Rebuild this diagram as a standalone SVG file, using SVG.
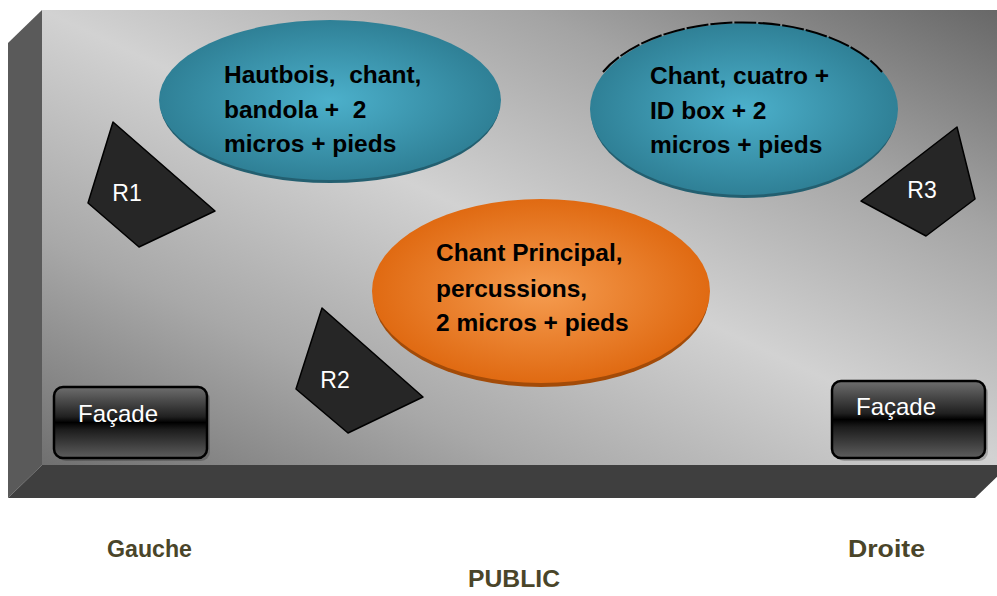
<svg xmlns="http://www.w3.org/2000/svg" width="997" height="596" viewBox="0 0 997 596">
<defs>
<linearGradient id="stageGrad" x1="1" y1="0" x2="0" y2="1">
<stop offset="0" stop-color="#666666"/>
<stop offset="0.25" stop-color="#a4a4a4"/>
<stop offset="0.5" stop-color="#d2d2d2"/>
<stop offset="0.75" stop-color="#a8a8a8"/>
<stop offset="1" stop-color="#707070"/>
</linearGradient>
<radialGradient id="teal" cx="0.5" cy="0.5" r="0.5">
<stop offset="0" stop-color="#4cb0cb"/>
<stop offset="1" stop-color="#2f8096"/>
</radialGradient>
<radialGradient id="orange" cx="0.5" cy="0.5" r="0.5">
<stop offset="0" stop-color="#f59c50"/>
<stop offset="1" stop-color="#e06a12"/>
</radialGradient>
<linearGradient id="btn" x1="0" y1="0" x2="0" y2="1">
<stop offset="0" stop-color="#6e6e6e"/>
<stop offset="0.42" stop-color="#202020"/>
<stop offset="0.5" stop-color="#000000"/>
<stop offset="0.6" stop-color="#1c1c1c"/>
<stop offset="1" stop-color="#5e5e5e"/>
</linearGradient>
</defs>
<style>
.poly{fill:#262626;stroke:#000;stroke-width:1.5;stroke-linejoin:round}
.rl{font-family:"Liberation Sans",Arial,sans-serif;font-size:23px;fill:#fff}
.btn{fill:url(#btn);stroke:#000;stroke-width:2.5}
.bt{font-family:"Liberation Sans",Arial,sans-serif;font-size:24px;fill:#fff}
.et{font-family:"Liberation Sans",Arial,sans-serif;font-size:24.5px;font-weight:bold;fill:#000;white-space:pre}
.lab{font-family:"Liberation Sans",Arial,sans-serif;font-size:24px;font-weight:bold;fill:#4a4529}
</style>
<rect width="997" height="596" fill="#fff"/>
<g id="stage">
<polygon points="42,10 1009,10 1009,465 42,465" fill="url(#stageGrad)"/>
<polygon points="8,43 42,10 42,465 8,498" fill="#5a5a5a"/>
<polygon points="8,498 42,465 1009,465 975,498" fill="#3f3f3f"/>
</g>
<g id="ellipse-left">
<ellipse cx="330" cy="103" rx="170" ry="80" fill="#235f70"/>
<ellipse cx="330" cy="100" rx="171" ry="80" fill="url(#teal)"/>
<text class="et" x="224" y="83" xml:space="preserve">Hautbois,  chant,</text>
<text class="et" x="224" y="118" xml:space="preserve">bandola +  2</text>
<text class="et" x="224" y="152">micros + pieds</text>
</g>
<g id="ellipse-right">
<ellipse cx="744" cy="112" rx="153" ry="86" fill="#235f70"/>
<ellipse cx="744" cy="109" rx="154" ry="86" fill="url(#teal)"/>
<path d="M 603 72 A 154 86 0 0 1 882 72" fill="none" stroke="#000" stroke-width="2" stroke-dasharray="22 2"/>
<text class="et" x="650" y="84">Chant, cuatro +</text>
<text class="et" x="650" y="119">ID box + 2</text>
<text class="et" x="650" y="153">micros + pieds</text>
</g>
<g id="ellipse-center">
<ellipse cx="541" cy="295" rx="168" ry="92" fill="#a34b08"/>
<ellipse cx="541" cy="291" rx="169" ry="92" fill="url(#orange)"/>
<text class="et" x="436" y="261">Chant Principal,</text>
<text class="et" x="436" y="297">percussions,</text>
<text class="et" x="436" y="331">2 micros + pieds</text>
</g>
<g id="R1">
<polygon class="poly" points="113,122 215,211 139,247 88,203"/>
<text class="rl" x="127" y="201" text-anchor="middle">R1</text>
</g>
<g id="R2">
<polygon class="poly" points="322,308 423,397 348,433 296,389"/>
<text class="rl" x="335" y="388" text-anchor="middle">R2</text>
</g>
<g id="R3">
<polygon class="poly" points="957,127 975,199 926,236 861,201"/>
<text class="rl" x="922" y="198" text-anchor="middle">R3</text>
</g>
<g id="facade-left">
<rect x="57" y="390" width="153" height="71" rx="9" fill="#000" opacity="0.2"/>
<rect class="btn" x="54" y="387" width="153" height="71" rx="9"/>
<text class="bt" x="118" y="422" text-anchor="middle">Façade</text>
</g>
<g id="facade-right">
<rect x="835" y="384" width="153" height="77" rx="9" fill="#000" opacity="0.2"/>
<rect class="btn" x="832" y="381" width="153" height="77" rx="9"/>
<text class="bt" x="896" y="415" text-anchor="middle">Façade</text>
</g>
<g id="labels">
<text class="lab" x="107" y="557" textLength="85" lengthAdjust="spacingAndGlyphs">Gauche</text>
<text class="lab" x="848" y="557" textLength="77" lengthAdjust="spacingAndGlyphs">Droite</text>
<text class="lab" x="468" y="587" textLength="92" lengthAdjust="spacingAndGlyphs">PUBLIC</text>
</g>
<g id="connectors"/>
</svg>
